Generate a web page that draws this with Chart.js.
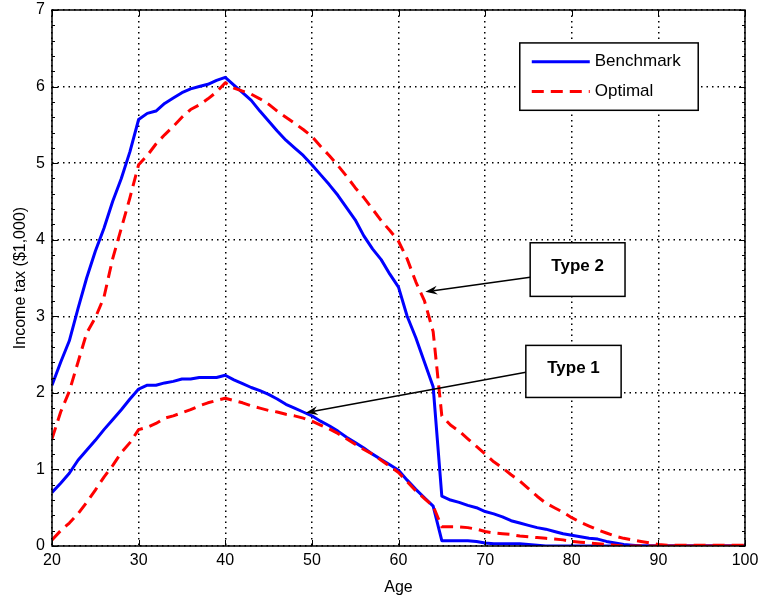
<!DOCTYPE html>
<html>
<head>
<meta charset="utf-8">
<script src="https://cdn.jsdelivr.net/npm/chart.js@4"></script>
<style>
  html, body { margin: 0; padding: 0; background: #fff; }
  #wrap { width: 761px; height: 599px; position: relative; }
</style>
</head>
<body>
<div id="wrap"><canvas id="taxChart"></canvas></div>
<script>
// Ages (x categories)
const ages = [20, 21, 22, 23, 24, 25, 26, 27, 28, 29,
              30, 31, 32, 33, 34, 35, 36, 37, 38, 39,
              40, 41, 42, 43, 44, 45, 46, 47, 48, 49,
              50, 51, 52, 53, 54, 55, 56, 57, 58, 59,
              60, 61, 62, 63, 64, 65, 66, 67, 68, 69,
              70, 71, 72, 73, 74, 75, 76, 77, 78, 79,
              80, 81, 82, 83, 84, 85, 86, 87, 88, 89,
              90, 91, 92, 93, 94, 95, 96, 97, 98, 99, 100];

// Type 2 - benchmark
const benchType2 = [2.10, 2.40, 2.68, 3.10, 3.50, 3.85, 4.15, 4.50, 4.80, 5.15,
                    5.57, 5.65, 5.68, 5.78, 5.85, 5.92, 5.97, 6.00, 6.03, 6.08,
                    6.12, 6.02, 5.92, 5.82, 5.68, 5.55, 5.42, 5.30, 5.20, 5.10,
                    4.98, 4.85, 4.72, 4.58, 4.42, 4.26, 4.05, 3.88, 3.74, 3.55,
                    3.38, 3.00, 2.72, 2.40, 2.08, 0.65, 0.60, 0.57, 0.53, 0.50,
                    0.45, 0.42, 0.38, 0.33, 0.30, 0.27, 0.24, 0.22, 0.19, 0.16,
                    0.14, 0.12, 0.10, 0.09, 0.06, 0.04, 0.02, 0.01, 0, 0,
                    0, 0, 0, 0, 0, 0, 0, 0, 0, 0, 0];

// Type 2 - optimal
const optType2 = [1.40, 1.75, 2.02, 2.40, 2.78, 2.98, 3.25, 3.75, 4.15, 4.55,
                  4.98, 5.10, 5.25, 5.37, 5.48, 5.60, 5.70, 5.76, 5.84, 5.93,
                  6.05, 5.98, 5.94, 5.90, 5.84, 5.77, 5.68, 5.60, 5.52, 5.44,
                  5.35, 5.22, 5.10, 4.97, 4.83, 4.68, 4.55, 4.40, 4.25, 4.12,
                  3.98, 3.75, 3.45, 3.20, 2.80, 1.70, 1.58, 1.50, 1.40, 1.30,
                  1.20, 1.10, 1.02, 0.93, 0.85, 0.75, 0.65, 0.56, 0.50, 0.44,
                  0.37, 0.31, 0.26, 0.21, 0.17, 0.13, 0.10, 0.08, 0.06, 0.04,
                  0.02, 0.01, 0.01, 0.01, 0.01, 0.01, 0.01, 0.01, 0.01, 0.01, 0.01];

// Type 1 - benchmark
const benchType1 = [0.70, 0.82, 0.95, 1.12, 1.25, 1.38, 1.52, 1.65, 1.78, 1.92,
                    2.05, 2.10, 2.10, 2.13, 2.15, 2.18, 2.18, 2.20, 2.20, 2.20,
                    2.23, 2.17, 2.12, 2.07, 2.03, 1.98, 1.92, 1.85, 1.80, 1.75,
                    1.70, 1.63, 1.57, 1.50, 1.42, 1.35, 1.28, 1.20, 1.13, 1.06,
                    0.99, 0.86, 0.74, 0.63, 0.52, 0.07, 0.07, 0.07, 0.07, 0.06,
                    0.04, 0.03, 0.03, 0.03, 0.03, 0.02, 0.01, 0, 0, 0,
                    0, 0, 0, 0, 0, 0, 0, 0, 0, 0,
                    0, 0, 0, 0, 0, 0, 0, 0, 0, 0, 0];

// Type 1 - optimal
const optType1 = [0.08, 0.20, 0.30, 0.42, 0.57, 0.73, 0.90, 1.05, 1.22, 1.35,
                  1.52, 1.55, 1.60, 1.67, 1.70, 1.74, 1.78, 1.83, 1.87, 1.90,
                  1.93, 1.90, 1.87, 1.83, 1.80, 1.77, 1.75, 1.72, 1.70, 1.67,
                  1.63, 1.58, 1.53, 1.47, 1.40, 1.33, 1.26, 1.20, 1.12, 1.04,
                  0.96, 0.84, 0.72, 0.62, 0.52, 0.25, 0.25, 0.25, 0.24, 0.22,
                  0.19, 0.17, 0.16, 0.15, 0.13, 0.12, 0.11, 0.10, 0.09, 0.08,
                  0.06, 0.05, 0.04, 0.03, 0.02, 0.01, 0, 0, 0, 0,
                  0, 0, 0, 0, 0, 0, 0, 0, 0, 0, 0];

const xTicks = [20, 30, 40, 50, 60, 70, 80, 90, 100];
const yTicks = [0, 1, 2, 3, 4, 5, 6, 7];
const legendLabels = ['Benchmark', 'Optimal'];

const BLUE = '#0000ff';
const RED = '#ff0000';
const FONT = '"Liberation Sans", Arial, sans-serif';

const pts = (vals) => ages.map((a, i) => ({ x: a, y: vals[i] }));

// annotation boxes and arrows, in data units
const notes = [
    { text: 'Type 2', box: [75.2, 3.96, 86.15, 3.26], from: [75.2, 3.51], to: [63.1, 3.32] },
    { text: 'Type 1', box: [74.7, 2.62, 85.7, 1.94], from: [74.7, 2.27], to: [49.3, 1.74] }
];
const legendBox = [74.0, 6.57, 94.6, 5.69];

function arrow(ctx, x1, y1, x2, y2) {
    const ang = Math.atan2(y2 - y1, x2 - x1);
    const len = 12, half = 4.5, notch = 8;
    ctx.beginPath();
    ctx.moveTo(x1, y1);
    ctx.lineTo(x2 - Math.cos(ang) * notch, y2 - Math.sin(ang) * notch);
    ctx.stroke();
    const bx = x2 - Math.cos(ang) * len, by = y2 - Math.sin(ang) * len;
    const nx = -Math.sin(ang), ny = Math.cos(ang);
    ctx.beginPath();
    ctx.moveTo(x2, y2);
    ctx.lineTo(bx + nx * half, by + ny * half);
    ctx.lineTo(x2 - Math.cos(ang) * notch, y2 - Math.sin(ang) * notch);
    ctx.lineTo(bx - nx * half, by - ny * half);
    ctx.closePath();
    ctx.fill();
}

const decorPlugin = {
    id: 'decor',
    afterDatasetsDraw(chart) {
        const { ctx, chartArea: a, scales: { x, y } } = chart;
        ctx.save();

        // inward ticks on all four sides
        ctx.strokeStyle = '#000';
        ctx.lineWidth = 1;
        ctx.setLineDash([]);
        ctx.beginPath();
        xTicks.forEach(t => {
            const px = Math.round(x.getPixelForValue(t)) + 0.5;
            ctx.moveTo(px, a.bottom); ctx.lineTo(px, a.bottom - 6);
            ctx.moveTo(px, a.top); ctx.lineTo(px, a.top + 6);
        });
        for (let v = 0; v <= 70; v += 2) {
            const py = Math.round(y.getPixelForValue(v / 10)) + 0.5;
            const l = v % 10 === 0 ? 6 : 3;
            ctx.moveTo(a.left, py); ctx.lineTo(a.left + l, py);
            ctx.moveTo(a.right, py); ctx.lineTo(a.right - l, py);
        }
        ctx.stroke();

        // annotations
        ctx.lineWidth = 1.5;
        ctx.fillStyle = '#000';
        notes.forEach(n => {
            arrow(ctx, x.getPixelForValue(n.from[0]), y.getPixelForValue(n.from[1]),
                  x.getPixelForValue(n.to[0]), y.getPixelForValue(n.to[1]));
        });
        notes.forEach(n => {
            const l = x.getPixelForValue(n.box[0]), t = y.getPixelForValue(n.box[1]);
            const r = x.getPixelForValue(n.box[2]), b = y.getPixelForValue(n.box[3]);
            ctx.fillStyle = '#fff';
            ctx.fillRect(l, t, r - l, b - t);
            ctx.strokeStyle = '#000';
            ctx.lineWidth = 1.5;
            ctx.strokeRect(l, t, r - l, b - t);
            ctx.fillStyle = '#000';
            ctx.font = 'bold 17px ' + FONT;
            ctx.textAlign = 'center';
            ctx.textBaseline = 'middle';
            ctx.fillText(n.text, (l + r) / 2, (t + b) / 2 - 3);
        });

        // legend
        const ll = x.getPixelForValue(legendBox[0]), lt = y.getPixelForValue(legendBox[1]);
        const lr = x.getPixelForValue(legendBox[2]), lb = y.getPixelForValue(legendBox[3]);
        ctx.fillStyle = '#fff';
        ctx.fillRect(ll, lt, lr - ll, lb - lt);
        ctx.strokeStyle = '#000';
        ctx.lineWidth = 1.5;
        ctx.strokeRect(ll, lt, lr - ll, lb - lt);
        const rows = [lt + (lb - lt) * 0.28, lt + (lb - lt) * 0.72];
        const styles = [{ c: BLUE, d: [] }, { c: RED, d: [12, 7] }];
        legendLabels.forEach((lab, i) => {
            ctx.strokeStyle = styles[i].c;
            ctx.lineWidth = 3;
            ctx.setLineDash(styles[i].d);
            ctx.beginPath();
            ctx.moveTo(ll + 12, rows[i]);
            ctx.lineTo(ll + 70, rows[i]);
            ctx.stroke();
            ctx.setLineDash([]);
            ctx.fillStyle = '#000';
            ctx.font = '17px ' + FONT;
            ctx.textAlign = 'left';
            ctx.textBaseline = 'middle';
            ctx.fillText(lab, ll + 75, rows[i]);
        });

        // axes frame
        ctx.strokeStyle = '#000';
        ctx.lineWidth = 1.5;
        ctx.setLineDash([]);
        ctx.strokeRect(a.left, a.top, a.right - a.left, a.bottom - a.top);
        ctx.restore();
    }
};

const gridOpts = {
    color: '#000',
    lineWidth: 1.5,
    drawTicks: false
};

new Chart(document.getElementById('taxChart'), {
    type: 'line',
    data: {
        datasets: [
            { label: 'Optimal', data: pts(optType2), borderColor: RED, borderDash: [12, 7], order: 0 },
            { label: 'Optimal', data: pts(optType1), borderColor: RED, borderDash: [12, 7], order: 0 },
            { label: 'Benchmark', data: pts(benchType2), borderColor: BLUE, order: 1 },
            { label: 'Benchmark', data: pts(benchType1), borderColor: BLUE, order: 1 }
        ]
    },
    options: {
        responsive: true,
        maintainAspectRatio: false,
        animation: false,
        events: [],
        datasets: {
            line: { borderWidth: 3, pointRadius: 0, tension: 0, fill: false, borderJoinStyle: 'round' }
        },
        layout: { padding: { left: 0, right: 16, top: 10, bottom: 0 } },
        plugins: { legend: { display: false }, tooltip: { enabled: false } },
        scales: {
            x: {
                type: 'linear',
                min: 20, max: 100,
                afterFit: (s) => { s.height = 53; s.paddingLeft = 0; s.paddingRight = 0; },
                afterBuildTicks: (s) => { s.ticks = xTicks.map(v => ({ value: v })); },
                grid: { ...gridOpts },
                border: { display: false, dash: [1.5, 4] },
                ticks: { color: '#000', font: { family: FONT, size: 16 }, padding: 5, maxRotation: 0 },
                title: { display: true, text: 'Age', color: '#000', font: { family: FONT, size: 16 }, padding: { top: 0, bottom: 2 } }
            },
            y: {
                min: 0, max: 7,
                afterFit: (s) => { s.width = 52; s.paddingTop = 0; s.paddingBottom = 0; },
                afterBuildTicks: (s) => { s.ticks = yTicks.map(v => ({ value: v })); },
                grid: { ...gridOpts },
                border: { display: false, dash: [1.5, 4] },
                ticks: { color: '#000', font: { family: FONT, size: 16 }, padding: 7 },
                title: { display: true, text: 'Income tax ($1,000)', color: '#000', font: { family: FONT, size: 16 }, padding: { top: 11, bottom: 0 } }
            }
        }
    },
    plugins: [decorPlugin]
});
</script>
</body>
</html>
